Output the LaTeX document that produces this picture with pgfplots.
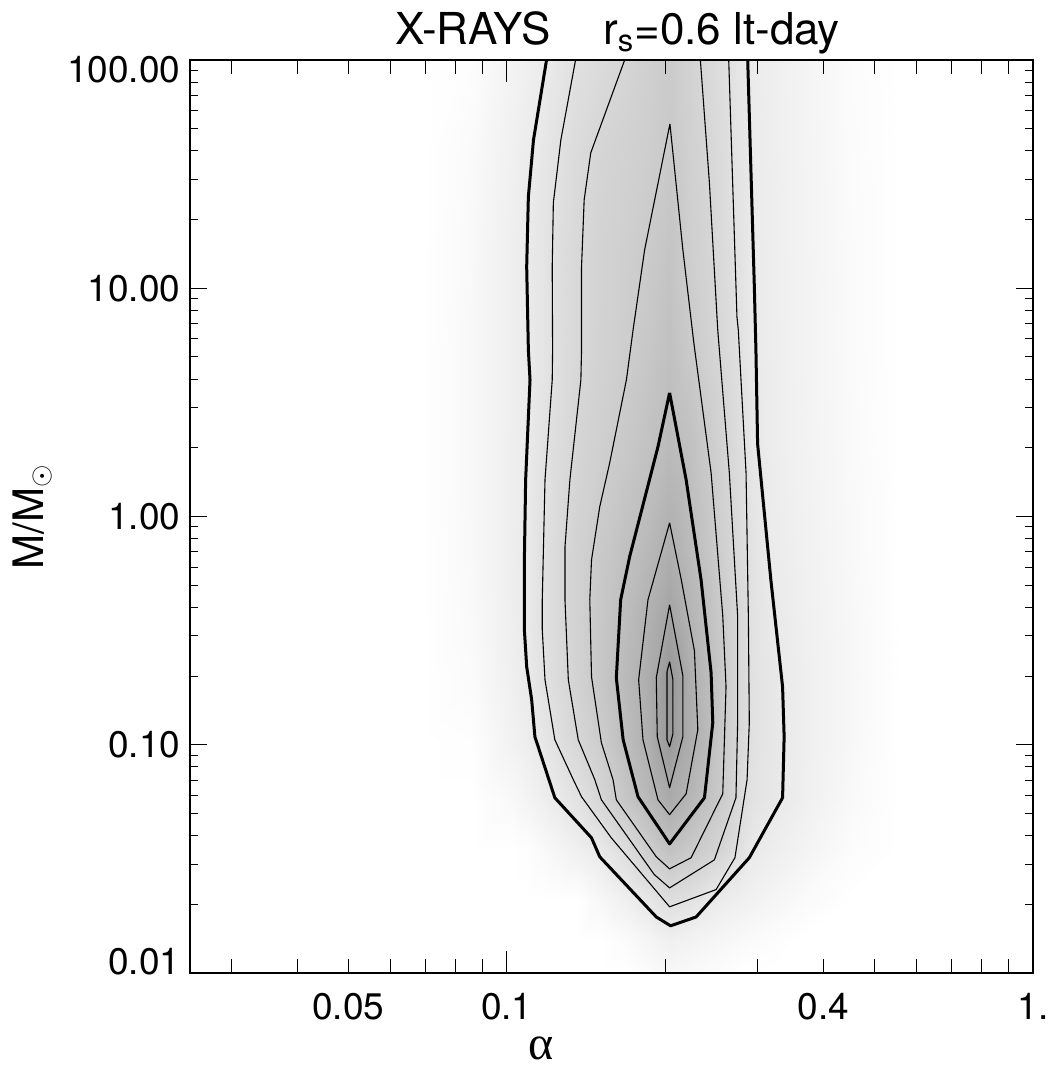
\documentclass[border=0pt]{standalone}
\usepackage{pgfplots}
\pgfplotsset{compat=1.18}
\usepackage{fontspec}
\setmainfont{TeX Gyre Heros}
\newfontfamily\serifgreek{Liberation Serif}
\begin{document}
\begin{tikzpicture}
\useasboundingbox (-95pt,-47pt) rectangle (433.5pt,486.5pt);
\begin{axis}[
  at={(0,0)}, anchor=south west,
  scale only axis, width=421.5pt, height=456.5pt,
  xmode=log, ymode=log,
  xmin=0.025, xmax=1, ymin=0.01, ymax=100,
  axis on top,
  colormap={wb}{gray(0cm)=(1); gray(1cm)=(0)},
  point meta min=0, point meta max=1,
  xtick={0.1,1}, xticklabels={0.1,1.},
  extra x ticks={0.05,0.4}, extra x tick labels={0.05,0.4},
  extra x tick style={major tick length=7pt},
  minor xtick={0.03,0.04,0.05,0.06,0.07,0.08,0.09,0.2,0.3,0.4,0.5,0.6,0.7,0.8,0.9},
  ytick={0.01,0.1,1,10,100},
  yticklabels={\raisebox{5.5pt}[\height][\depth]{0.01},0.10,1.00,10.00,\raisebox{-4.75pt}[\height][\depth]{100.00}},
  minor ytick={0.02,0.03,0.04,0.05,0.06,0.07,0.08,0.09,0.2,0.3,0.4,0.5,0.6,0.7,0.8,0.9,2,3,4,5,6,7,8,9,20,30,40,50,60,70,80,90},
  tick align=inside,
  major tick length=11pt, minor tick length=7pt,
  ytick style={/pgfplots/major tick length=8.5pt,/pgfplots/minor tick length=4pt},
  tick style={black, line width=0.5pt},
  axis line style={black, line width=0.75pt},
  tick label style={font=\fontsize{18.5}{22}\selectfont},
  xticklabel style={yshift=-6.8pt},
  yticklabel style={xshift=-1.3pt},
  title={X-RAYS\hspace{1.2em}r\textsubscript{s}=0.6 lt-day},
  title style={font=\fontsize{22}{26}\selectfont, at={(axis description cs:0.5,1)}, anchor=base, yshift=1.5pt, xshift=3pt},
  ylabel={M/M\textsubscript{$\odot$}},
  ylabel style={font=\fontsize{21}{25}\selectfont, at={(axis description cs:-0.2111,0.5)}, anchor=north, inner sep=0pt},
  xlabel={{\serifgreek α}},
  xlabel style={font=\fontsize{24}{28}\selectfont, at={(axis description cs:0.4164,0)}, anchor=base, yshift=-43pt},
]
\addplot[surf, shader=interp, mesh/cols=20, point meta=explicit] table[x=a, y=m, meta=v] {
a m v
0.06902 100 0
0.08589 100 0.009
0.1022 100 0.047
0.1091 100 0.061
0.1165 100 0.075
0.1244 100 0.094
0.1357 100 0.121
0.1513 100 0.141
0.1688 100 0.162
0.1866 100 0.185
0.2036 100 0.205
0.2222 100 0.176
0.2392 100 0.152
0.2576 100 0.128
0.2763 100 0.099
0.2936 100 0.077
0.3176 100 0.065
0.3620 100 0.046
0.4500 100 0.013
0.5600 100 0

0.06902 40.38 0
0.08589 40.38 0.020
0.1022 40.38 0.059
0.1091 40.38 0.074
0.1165 40.38 0.093
0.1244 40.38 0.114
0.1357 40.38 0.141
0.1513 40.38 0.166
0.1688 40.38 0.179
0.1866 40.38 0.192
0.2036 40.38 0.210
0.2222 40.38 0.184
0.2392 40.38 0.163
0.2576 40.38 0.136
0.2763 40.38 0.105
0.2936 40.38 0.078
0.3176 40.38 0.067
0.3620 40.38 0.048
0.4500 40.38 0.016
0.5600 40.38 0

0.06902 14.73 0
0.08589 14.73 0.025
0.1022 14.73 0.065
0.1091 14.73 0.080
0.1165 14.73 0.103
0.1244 14.73 0.126
0.1357 14.73 0.153
0.1513 14.73 0.173
0.1688 14.73 0.189
0.1866 14.73 0.206
0.2036 14.73 0.230
0.2222 14.73 0.192
0.2392 14.73 0.169
0.2576 14.73 0.142
0.2763 14.73 0.111
0.2936 14.73 0.080
0.3176 14.73 0.069
0.3620 14.73 0.050
0.4500 14.73 0.019
0.5600 14.73 0

0.06902 5.373 0
0.08589 5.373 0.028
0.1022 5.373 0.064
0.1091 5.373 0.078
0.1165 5.373 0.102
0.1244 5.373 0.126
0.1357 5.373 0.153
0.1513 5.373 0.176
0.1688 5.373 0.195
0.1866 5.373 0.221
0.2036 5.373 0.245
0.2222 5.373 0.209
0.2392 5.373 0.180
0.2576 5.373 0.151
0.2763 5.373 0.119
0.2936 5.373 0.087
0.3176 5.373 0.070
0.3620 5.373 0.051
0.4500 5.373 0.019
0.5600 5.373 0

0.06902 1.960 0
0.08589 1.960 0.028
0.1022 1.960 0.066
0.1091 1.960 0.080
0.1165 1.960 0.110
0.1244 1.960 0.135
0.1357 1.960 0.164
0.1513 1.960 0.188
0.1688 1.960 0.215
0.1866 1.960 0.241
0.2036 1.960 0.270
0.2222 1.960 0.246
0.2392 1.960 0.209
0.2576 1.960 0.171
0.2763 1.960 0.135
0.2936 1.960 0.096
0.3176 1.960 0.072
0.3620 1.960 0.053
0.4500 1.960 0.022
0.5600 1.960 0

0.06902 0.7146 0
0.08589 0.7146 0.026
0.1022 0.7146 0.067
0.1091 0.7146 0.085
0.1165 0.7146 0.118
0.1244 0.7146 0.145
0.1357 0.7146 0.176
0.1513 0.7146 0.211
0.1688 0.7146 0.245
0.1866 0.7146 0.278
0.2036 0.7146 0.315
0.2222 0.7146 0.270
0.2392 0.7146 0.229
0.2576 0.7146 0.185
0.2763 0.7146 0.143
0.2936 0.7146 0.109
0.3176 0.7146 0.078
0.3620 0.7146 0.059
0.4500 0.7146 0.026
0.5600 0.7146 0

0.06902 0.3527 0
0.08589 0.3527 0.022
0.1022 0.3527 0.066
0.1091 0.3527 0.085
0.1165 0.3527 0.118
0.1244 0.3527 0.145
0.1357 0.3527 0.178
0.1513 0.3527 0.219
0.1688 0.3527 0.262
0.1866 0.3527 0.308
0.2036 0.3527 0.360
0.2222 0.3527 0.295
0.2392 0.3527 0.253
0.2576 0.3527 0.200
0.2763 0.3527 0.156
0.2936 0.3527 0.113
0.3176 0.3527 0.087
0.3620 0.3527 0.063
0.4500 0.3527 0.030
0.5600 0.3527 0

0.06902 0.1926 0
0.08589 0.1926 0.017
0.1022 0.1926 0.063
0.1091 0.1926 0.080
0.1165 0.1926 0.113
0.1244 0.1926 0.140
0.1357 0.1926 0.174
0.1513 0.1926 0.220
0.1688 0.1926 0.272
0.1866 0.1926 0.324
0.2036 0.1926 0.410
0.2222 0.1926 0.322
0.2392 0.1926 0.269
0.2576 0.1926 0.210
0.2763 0.1926 0.155
0.2936 0.1926 0.115
0.3176 0.1926 0.094
0.3620 0.1926 0.067
0.4500 0.1926 0.032
0.5600 0.1926 0

0.06902 0.1052 0
0.08589 0.1052 0.006
0.1022 0.1052 0.053
0.1091 0.1052 0.070
0.1165 0.1052 0.093
0.1244 0.1052 0.123
0.1357 0.1052 0.157
0.1513 0.1052 0.200
0.1688 0.1052 0.258
0.1866 0.1052 0.318
0.2036 0.1052 0.400
0.2222 0.1052 0.325
0.2392 0.1052 0.274
0.2576 0.1052 0.210
0.2763 0.1052 0.156
0.2936 0.1052 0.116
0.3176 0.1052 0.095
0.3620 0.1052 0.067
0.4500 0.1052 0.030
0.5600 0.1052 0

0.06902 0.05742 0
0.08589 0.05742 0
0.1022 0.05742 0.025
0.1091 0.05742 0.044
0.1165 0.05742 0.063
0.1244 0.05742 0.083
0.1357 0.05742 0.113
0.1513 0.05742 0.160
0.1688 0.05742 0.223
0.1866 0.05742 0.278
0.2036 0.05742 0.330
0.2222 0.05742 0.289
0.2392 0.05742 0.245
0.2576 0.05742 0.199
0.2763 0.05742 0.148
0.2936 0.05742 0.112
0.3176 0.05742 0.093
0.3620 0.05742 0.065
0.4500 0.05742 0.024
0.5600 0.05742 0

0.06902 0.03468 0
0.08589 0.03468 0
0.1022 0.03468 0
0.1091 0.03468 0.005
0.1165 0.03468 0.021
0.1244 0.03468 0.037
0.1357 0.03468 0.059
0.1513 0.03468 0.088
0.1688 0.03468 0.133
0.1866 0.03468 0.195
0.2036 0.03468 0.240
0.2222 0.03468 0.212
0.2392 0.03468 0.188
0.2576 0.03468 0.163
0.2763 0.03468 0.120
0.2936 0.03468 0.085
0.3176 0.03468 0.069
0.3620 0.03468 0.048
0.4500 0.03468 0.014
0.5600 0.03468 0

0.06902 0.02095 0
0.08589 0.02095 0
0.1022 0.02095 0
0.1091 0.02095 0
0.1165 0.02095 0
0.1244 0.02095 0
0.1357 0.02095 0
0.1513 0.02095 0.031
0.1688 0.02095 0.063
0.1866 0.02095 0.096
0.2036 0.02095 0.130
0.2222 0.02095 0.118
0.2392 0.02095 0.092
0.2576 0.02095 0.074
0.2763 0.02095 0.063
0.2936 0.02095 0.053
0.3176 0.02095 0.041
0.3620 0.02095 0.021
0.4500 0.02095 0
0.5600 0.02095 0

0.06902 0.01399 0
0.08589 0.01399 0
0.1022 0.01399 0
0.1091 0.01399 0
0.1165 0.01399 0
0.1244 0.01399 0
0.1357 0.01399 0
0.1513 0.01399 0
0.1688 0.01399 0.016
0.1866 0.01399 0.039
0.2036 0.01399 0.060
0.2222 0.01399 0.050
0.2392 0.01399 0.042
0.2576 0.01399 0.033
0.2763 0.01399 0.025
0.2936 0.01399 0.018
0.3176 0.01399 0.010
0.3620 0.01399 0
0.4500 0.01399 0
0.5600 0.01399 0

0.06902 0.01 0
0.08589 0.01 0
0.1022 0.01 0
0.1091 0.01 0
0.1165 0.01 0
0.1244 0.01 0
0.1357 0.01 0
0.1513 0.01 0
0.1688 0.01 0
0.1866 0.01 0.014
0.2036 0.01 0.030
0.2222 0.01 0.022
0.2392 0.01 0.015
0.2576 0.01 0.008
0.2763 0.01 0
0.2936 0.01 0
0.3176 0.01 0
0.3620 0.01 0
0.4500 0.01 0
0.5600 0.01 0
};
% outer thick contour
\addplot[black, line width=1.5pt, line join=round] coordinates {
(0.1190,100) (0.1124,44.67) (0.1099,25.14) (0.1091,12.41) (0.1099,5.373) (0.1107,3.970) (0.1086,1.448) (0.1080,0.6462) (0.1080,0.3190) (0.1091,0.2196) (0.1115,0.1575) (0.1131,0.1084) (0.1234,0.0586) (0.1449,0.0391) (0.1502,0.0323) (0.1924,0.0176) (0.2048,0.0161) (0.2290,0.0176) (0.2890,0.0320) (0.3343,0.0586) (0.3366,0.1084) (0.3343,0.1795) (0.3176,0.5281) (0.2997,2.082) (0.2975,5.373) (0.2953,10.56) (0.2903,40.38) (0.2870,100)};
% thin contours
\addplot[black, line width=0.55pt, line join=round] coordinates {
(0.1351,100) (0.1267,44.67) (0.1226,23.66) (0.1220,12.41) (0.1222,5.373) (0.1220,3.970) (0.1182,1.448) (0.1168,0.4316) (0.1168,0.3190) (0.1182,0.1926) (0.1234,0.1052) (0.1338,0.0703) (0.1387,0.0592) (0.1580,0.0391) (0.2039,0.0195) (0.2499,0.0232) (0.2714,0.0320) (0.2862,0.0703) (0.2890,0.1249) (0.2878,0.3673) (0.2849,1.554) (0.2754,6.574) (0.2738,7.493) (0.2687,28.95) (0.2641,100)};
\addplot[black, line width=0.55pt, line join=round] coordinates {
(0.1675,100) (0.1444,39.18) (0.1403,24.39) (0.1387,12.41) (0.1387,5.373) (0.1383,3.970) (0.1318,1.448) (0.1290,0.7366) (0.1290,0.4316) (0.1309,0.1926) (0.1367,0.1052) (0.1470,0.0703) (0.1513,0.0574) (0.1907,0.0270) (0.2039,0.0236) (0.2480,0.0313) (0.2726,0.0586) (0.2746,0.1249) (0.2746,0.3673) (0.2648,1.554) (0.2517,6.574) (0.2427,28.95) (0.2333,100)};
\addplot[black, line width=0.55pt, line join=round] coordinates {
(0.2042,52.50) (0.1828,14.73) (0.1738,6.574) (0.1688,3.970) (0.1569,1.719) (0.1502,1.103) (0.1449,0.6462) (0.1438,0.4316) (0.1449,0.1985) (0.1513,0.1020) (0.1592,0.0703) (0.1615,0.0574) (0.1924,0.0323) (0.2039,0.0286) (0.2240,0.0320) (0.2573,0.0610) (0.2610,0.1795) (0.2573,0.3673) (0.2445,1.554) (0.2267,5.766) (0.2161,14.73) (0.2042,52.50)};
% inner thick contour
\addplot[black, line width=1.5pt, line join=round] coordinates {
(0.2039,3.482) (0.1938,2.020) (0.1712,0.6661) (0.1646,0.4316) (0.1615,0.1965) (0.1664,0.1052) (0.1776,0.0592) (0.2039,0.0368) (0.2375,0.0586) (0.2463,0.1249) (0.2445,0.2067) (0.2340,0.5281) (0.2192,1.448) (0.2039,3.482)};
\addplot[black, line width=0.55pt, line join=round] coordinates {
(0.2039,0.9384) (0.1855,0.4316) (0.1781,0.1926) (0.1815,0.1052) (0.1938,0.0574) (0.2039,0.0494) (0.2192,0.0610) (0.2307,0.1163) (0.2273,0.2581) (0.2146,0.5281) (0.2039,0.9384)};
\addplot[black, line width=0.55pt, line join=round] coordinates {
(0.2039,0.4104) (0.1924,0.1965) (0.1932,0.1084) (0.2039,0.0648) (0.2161,0.1084) (0.2161,0.2005) (0.2039,0.4104)};
\addplot[black, line width=0.55pt, line join=round] coordinates {
(0.2039,0.2310) (0.2016,0.2088) (0.2016,0.1052) (0.2039,0.0980) (0.2069,0.1117) (0.2069,0.1926) (0.2039,0.2310)};
\end{axis}
\end{tikzpicture}
\end{document}
